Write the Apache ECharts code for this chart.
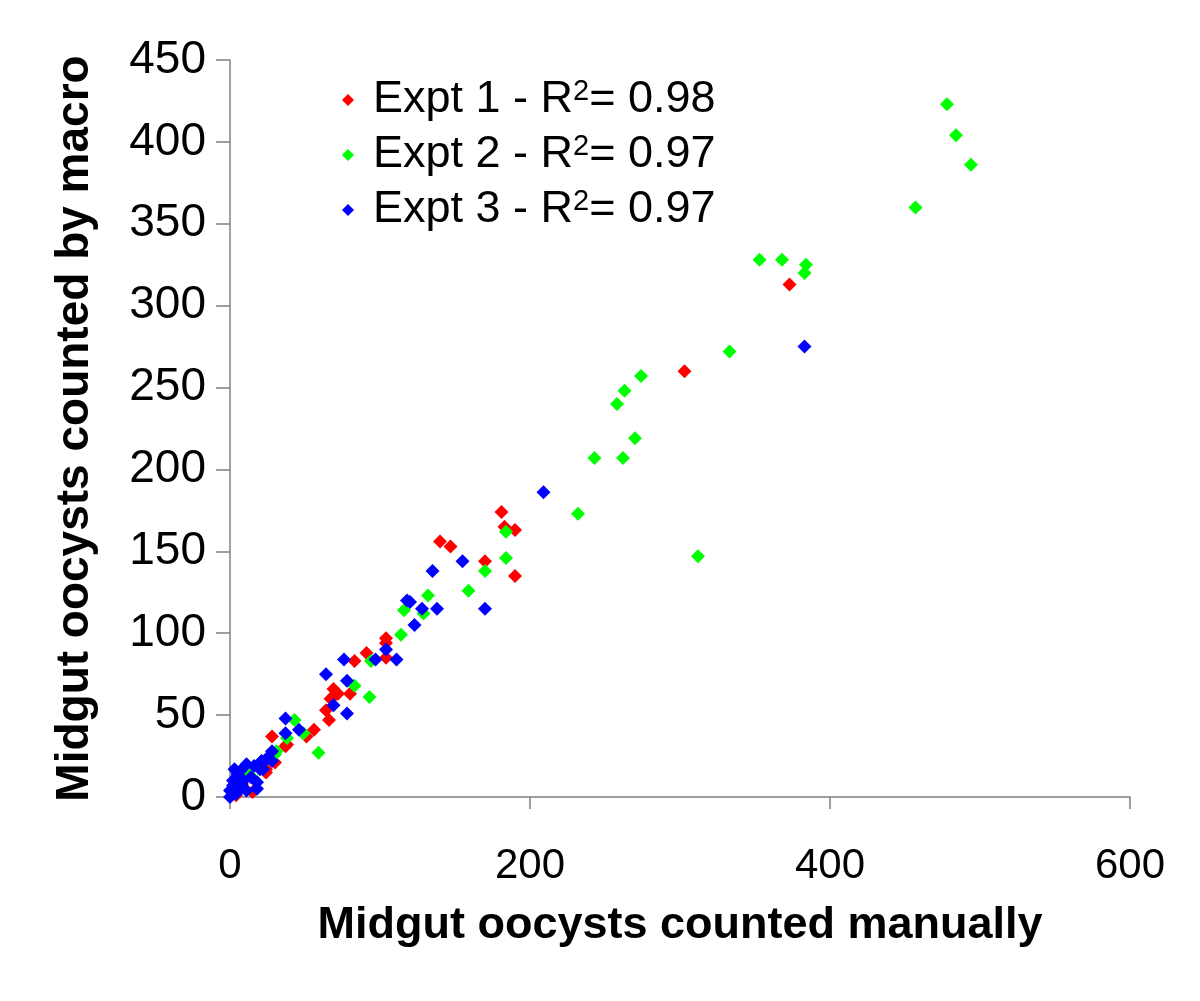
<!DOCTYPE html>
<html>
<head>
<meta charset="utf-8">
<script src="https://cdn.jsdelivr.net/npm/echarts@6/dist/echarts.min.js"></script>
<style>
html,body{margin:0;padding:0;background:#fff;}
#chart{width:1200px;height:1001px;}
</style>
</head>
<body>
<div id="chart"></div>
<script>
const xTicks = [0, 200, 400, 600];
const yTicks = [0, 50, 100, 150, 200, 250, 300, 350, 400, 450];

const seriesNames = ['Expt 1 - R', 'Expt 2 - R', 'Expt 3 - R'];
const r2Values = ['0.98', '0.97', '0.97'];
const seriesColors = ['#FF0000', '#00FF00', '#0000FF'];

const expt1 = [[373,313],[303,260],[181,174],[183,165],[190,163],[140,156],[147,153],[170,144],[190,135],
  [104,97],[104,94],[91,88],[104,85],[83,83],[80,63],[69,66],[72,63],[67,60],[64,53],[66,47],[71,63],
  [28,37],[56,41],[51,37],[38,32],[37,31],[24,17],[30,21],[24,15],[1,4],[15,3],[4,1],[8,8]];

const expt2 = [[478,423],[484,404],[494,386],[457,360],[353,328],[368,328],[384,325],[383,320],[333,272],
  [274,257],[263,248],[258,240],[270,219],[243,207],[262,207],[232,173],[312,147],[184,162],[184,146],
  [170,138],[159,126],[132,123],[116,114],[129,112],[114,99],[94,83],[83,68],[93,61],[43,47],[49,39],
  [38,36],[59,27],[31,28],[30,26],[16,11],[12,14],[3,5]];

const expt3 = [[383,275],[209,186],[155,144],[135,138],[118,120],[120,119],[128,115],[138,115],[170,115],
  [123,105],[104,90],[97,84],[111,84],[76,84],[64,75],[78,71],[69,56],[78,51],[37,48],[46,41],[37,39],
  [28,28],[21,22],[28,22],[22,17],[11,20],[16,19],[7,16],[3,17],[20,17],[2,10],[9,10],[18,9],[18,5],
  [0,4],[4,2],[11,4],[0,0],[7,6],[14,12],[22,21],[25,24],[5,14],[2,7],[6,12]];

const xTitle = 'Midgut oocysts counted manually';
const yTitle = 'Midgut oocysts counted by macro';

const FONT = '"Liberation Sans", Arial, sans-serif';
const allData = [expt1, expt2, expt3];

const chart = echarts.init(document.getElementById('chart'), null, {renderer: 'canvas'});
const option = {
  backgroundColor: '#ffffff',
  animation: false,
  grid: {left: 230, right: 70, top: 60, bottom: 204},
  legend: {
    orient: 'vertical',
    left: 337,
    top: 72,
    itemWidth: 12,
    itemHeight: 12,
    itemGap: 9,
    icon: 'diamond',
    data: seriesNames.map((n, i) => ({name: n, itemStyle: {color: seriesColors[i]}})),
    formatter: function (name) {
      const i = seriesNames.indexOf(name);
      return '{gap|}' + name + '{sup|2}= ' + r2Values[i];
    },
    textStyle: {
      fontFamily: FONT, fontSize: 45, color: '#000', lineHeight: 46,
      rich: {
        gap: {width: 14},
        sup: {fontFamily: FONT, fontSize: 29, color: '#000', verticalAlign: 'top', lineHeight: 22}
      }
    }
  },
  xAxis: {
    type: 'value', min: 0, max: 600, interval: 200,
    name: xTitle, nameLocation: 'middle', nameGap: 106,
    nameTextStyle: {fontFamily: FONT, fontSize: 45, fontWeight: 'bold', color: '#000'},
    axisLine: {show: true, lineStyle: {color: '#808080', width: 1.5}},
    axisTick: {show: true, length: 12, lineStyle: {color: '#808080', width: 1.5}},
    axisLabel: {fontFamily: FONT, fontSize: 42, color: '#000', margin: 48},
    splitLine: {show: false}
  },
  yAxis: {
    type: 'value', min: 0, max: 450, interval: 50,
    name: yTitle, nameLocation: 'middle', nameGap: 132,
    nameTextStyle: {fontFamily: FONT, fontSize: 46, fontWeight: 'bold', color: '#000'},
    axisLine: {show: true, lineStyle: {color: '#808080', width: 1.5}},
    axisTick: {show: true, length: 14, lineStyle: {color: '#808080', width: 1.5}},
    axisLabel: {fontFamily: FONT, fontSize: 46, color: '#000', margin: 24},
    splitLine: {show: false}
  },
  series: seriesNames.map((n, i) => ({
    name: n,
    type: 'scatter',
    symbol: 'diamond',
    symbolSize: 14,
    itemStyle: {color: seriesColors[i], opacity: 1},
    data: allData[i]
  }))
};
chart.setOption(option);
</script>
</body>
</html>
